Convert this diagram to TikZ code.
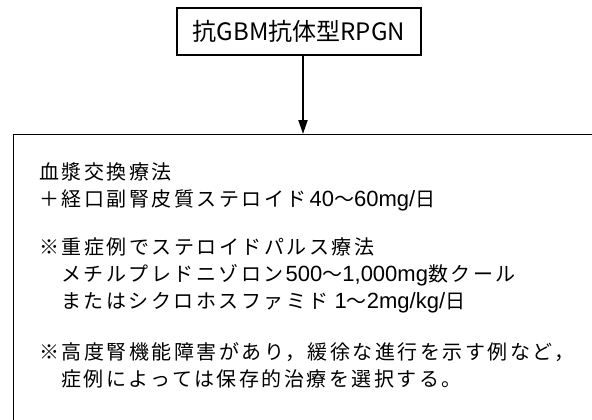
\documentclass[tikz,border=0pt]{standalone}
\usepackage{fontspec}
\usetikzlibrary{arrows.meta}
\newfontfamily\jpfont[LetterSpace=12.5]{Noto Sans CJK JP}
\newfontfamily\jptop{Noto Sans CJK JP}
\newfontfamily\latfont{Liberation Sans}
\newcommand{\lt}[1]{{\latfont\fontsize{22}{24}\selectfont #1}}
\tikzset{
  txt/.style={anchor=base west, inner sep=0pt, font=\jpfont\fontsize{20}{24}\selectfont},
  topbox/.style={draw, line width=1.2pt, minimum width=244pt, minimum height=47pt, inner sep=0pt, font=\jptop\fontsize{24}{28}\selectfont},
  bigbox/.style={draw, line width=1.2pt, anchor=north west, minimum width=620pt, minimum height=320pt, inner sep=0pt},
  arr/.style={line width=2pt, -{Triangle[width=9pt,length=14pt]}}
}
\begin{document}
\begin{tikzpicture}[x=1pt,y=-1pt]
\useasboundingbox[fill=white] (0,0) rectangle (592,420);
\clip (0,0) rectangle (592,420);
\node[topbox] (top) at (299,31.5) {抗GBM抗体型RPGN};
\node[bigbox] (big) at (13,134) {};
\draw[arr] ([xshift=4pt]top.south) -- ([xshift=4pt]top.south |- big.north);
\node[txt] (l1) at (39,179.6) {血漿交換療法};
\node[txt] (l2) at (39,206.6) {＋経口副腎皮質ステロイド\hspace{3pt}\lt{40}〜\lt{60mg/}日};
\node[txt] (l3) at (39,254.6) {※重症例でステロイドパルス療法};
\node[txt] (l4) at (61,281.6) {メチルプレドニゾロン\hspace{2pt}\lt{500}〜\lt{1,000mg}数クール};
\node[txt] (l5) at (61,308.6) {またはシクロホスファミド\hspace{6pt}\lt{1}〜\lt{2mg/kg/}日};
\node[txt] (l6) at (39,359.6) {※高度腎機能障害があり，緩徐な進行を示す例など，};
\node[txt] (l7) at (61,386.6) {症例によっては保存的治療を選択する。};
\end{tikzpicture}
\end{document}
